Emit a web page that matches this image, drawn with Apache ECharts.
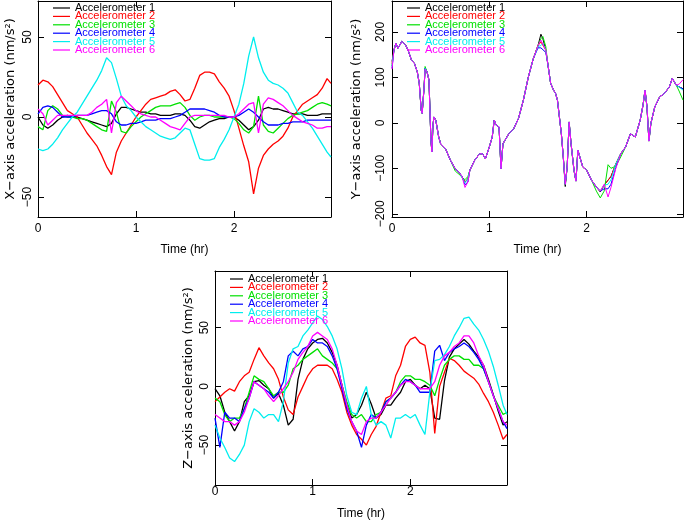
<!DOCTYPE html>
<html><head><meta charset="utf-8">
<script src="https://cdn.jsdelivr.net/npm/echarts@6/dist/echarts.min.js"></script>
<style>html,body{margin:0;padding:0;background:#fff}#c{width:685px;height:521px}</style>
</head><body><div id="c"></div><script>
const seriesNames = ['Accelerometer 1','Accelerometer 2','Accelerometer 3','Accelerometer 4','Accelerometer 5','Accelerometer 6'];
const seriesColors = ['#000000','#ff0000','#00e000','#0000ff','#00eeee','#ff00ff'];
const timeTicks = [0,1,2];
const xTicks = [-50,0,50];
const yTicks = [-200,-100,0,100,200];
const zTicks = [-50,0,50];

// shared time grid (hr) for X and Z panels
const gridTime = [0,0.05,0.1,0.15,0.2,0.25,0.3,0.35,0.4,0.45,0.5,0.55,0.6,0.65,0.7,0.75,0.8,0.85,0.9,0.95,1,1.05,1.1,1.15,1.2,1.25,1.3,1.35,1.4,1.45,1.5,1.55,1.6,1.65,1.7,1.75,1.8,1.85,1.9,1.95,2,2.05,2.1,2.15,2.2,2.25,2.3,2.35,2.4,2.45,2.5,2.55,2.6,2.65,2.7,2.75,2.8,2.85,2.9,2.95,2.99];

// X-axis acceleration (nm/s^2)
const xAcc1 = [0,-5,-7,-5,-2,0,1,0,0,-1,-2,-3,-4,-5,-6,-4,2,6,6,5,4,3,3,2,2,1,1,1,2,2,1,-2,-6,-7,-5,-3,-2,-1,-1,0,0,-2,-5,-8,-6,-2,5,6,5,5,4,3,2,2,2,1,1,1,2,2,2];
const xAcc2 = [20,23,22,19,14,9,4,2,0,-5,-10,-14,-18,-24,-31,-36,-22,-15,-10,-5,0,4,8,11,12,13,14,16,17,14,10,11,18,26,28,28,27,22,18,13,4,-7,-18,-28,-48,-32,-24,-20,-17,-15,-12,-7,0,4,8,10,12,14,18,24,21];
const xAcc3 = [-6,-8,4,7,5,1,0,0,-1,-1,-2,-4,-6,-8,-9,10,3,-9,-10,-6,-3,0,2,4,6,7,7,7,8,9,6,1,-2,0,1,1,0,0,0,0,-1,-4,-8,-10,-6,13,-5,-9,-10,-7,-4,-1,1,2,3,4,6,8,9,8,7];
const xAcc4 = [2,6,7,6,3,0,0,0,1,1,1,2,3,4,4,2,-3,-5,-5,-4,-4,-3,-2,-2,-2,-1,-1,-1,0,1,3,5,5,5,5,4,3,1,0,0,0,1,3,5,3,0,-3,-5,-5,-5,-4,-4,-3,-3,-3,-2,-2,-2,-2,-2,-2];
const xAcc5 = [-20,-21,-20,-17,-13,-8,-4,0,3,8,13,18,23,29,37,34,24,13,7,4,0,-3,-6,-8,-10,-12,-13,-14,-13,-10,-7,-8,-17,-26,-27,-27,-26,-19,-14,-8,0,8,21,38,50,37,28,23,21,20,18,15,9,3,1,-3,-7,-12,-17,-22,-25];
const xAcc6 = [5,2,-5,-2,1,1,1,1,1,1,1,3,6,8,11,-10,9,13,10,7,4,2,1,0,0,-2,-4,-6,-7,-8,-4,0,1,1,1,1,1,1,1,0,0,2,5,8,9,-10,8,12,11,9,7,4,1,-1,-3,-4,-5,-7,-7,-6,-6];

// Y-axis acceleration (nm/s^2) on its own time samples
const yTime = [0,0.02,0.04,0.06,0.08,0.1,0.12,0.14,0.17,0.2,0.23,0.26,0.28,0.3,0.31,0.33,0.34,0.36,0.38,0.4,0.41,0.42,0.43,0.45,0.48,0.5,0.55,0.6,0.65,0.7,0.72,0.75,0.78,0.8,0.85,0.9,0.93,0.96,1.0,1.03,1.05,1.07,1.09,1.1,1.12,1.14,1.2,1.25,1.3,1.35,1.4,1.45,1.5,1.53,1.55,1.58,1.6,1.63,1.66,1.68,1.7,1.72,1.74,1.76,1.78,1.8,1.82,1.84,1.87,1.89,1.91,1.93,1.96,2.0,2.05,2.1,2.14,2.18,2.22,2.25,2.3,2.35,2.4,2.45,2.5,2.55,2.58,2.6,2.62,2.64,2.66,2.7,2.75,2.8,2.85,2.88,2.92,2.95,2.99];
const yAcc1 = [135,160,175,164,171,179,182,171,157,138,131,112,87,28,21,79,120,112,94,-38,-64,-9,13,6,-31,-46,-57,-82,-101,-112,-115,-130,-123,-104,-82,-68,-68,-79,-53,-31,6,-5,-1,-9,-101,-46,-24,-13,10,50,100,140,170,195,185,160,131,87,72,65,50,13,-24,-75,-140,-97,2,-46,-104,-128,-60,-75,-97,-104,-126,-141,-152,-137,-126,-118,-90,-68,-53,-24,-31,6,40,72,35,-40,-1,35,57,65,79,98,83,79,75];
const yAcc2 = [130,160,175,164,171,179,182,171,157,138,131,112,87,28,21,79,120,112,94,-38,-64,-9,13,6,-31,-46,-57,-82,-101,-112,-115,-130,-123,-104,-82,-68,-68,-79,-53,-31,6,-5,-1,-9,-101,-46,-24,-13,10,50,100,140,170,178,175,160,131,87,72,65,50,13,-24,-75,-135,-97,2,-46,-104,-128,-60,-75,-97,-104,-126,-141,-150,-137,-126,-118,-90,-68,-53,-24,-31,6,40,72,35,-40,-1,35,57,65,79,98,83,79,75];
const yAcc3 = [125,160,175,164,171,179,182,171,157,138,131,112,87,28,21,79,124,112,94,-38,-64,-9,13,6,-31,-46,-57,-82,-106,-115,-120,-125,-118,-104,-82,-68,-68,-79,-53,-31,6,-5,-1,-9,-101,-46,-24,-13,10,50,100,140,170,185,190,168,131,87,72,65,50,13,-24,-75,-135,-97,2,-46,-104,-128,-60,-75,-97,-104,-126,-150,-165,-150,-92,-100,-95,-75,-53,-24,-31,6,40,72,35,-40,-1,35,57,65,79,98,83,70,50];
const yAcc4 = [120,160,175,164,171,179,182,171,157,138,131,112,87,28,21,79,120,112,94,-38,-64,-9,13,6,-31,-46,-57,-82,-101,-112,-118,-136,-130,-104,-82,-68,-68,-79,-53,-31,6,-5,-1,-9,-101,-46,-24,-13,10,50,100,140,165,165,166,155,131,87,72,65,50,13,-24,-75,-135,-97,2,-46,-104,-128,-60,-75,-97,-104,-126,-141,-150,-145,-145,-135,-98,-68,-53,-24,-31,6,40,72,35,-40,-1,35,57,65,79,98,83,79,75];
const yAcc5 = [125,160,175,164,171,179,182,171,157,138,131,112,87,28,21,79,120,112,94,-38,-64,-9,13,6,-31,-46,-57,-82,-101,-112,-115,-132,-123,-104,-82,-68,-68,-79,-53,-31,6,-5,-1,-9,-101,-46,-24,-13,10,50,100,140,168,170,175,160,131,87,72,65,50,13,-24,-75,-135,-97,2,-46,-104,-128,-60,-75,-97,-104,-126,-141,-150,-137,-135,-125,-90,-68,-53,-24,-31,6,40,72,35,-40,-1,35,57,65,79,98,83,79,72];
const yAcc6 = [118,160,175,164,171,179,182,171,157,138,131,112,87,28,21,79,118,112,94,-38,-64,-9,13,6,-31,-46,-57,-82,-101,-112,-118,-142,-130,-104,-82,-68,-68,-79,-53,-31,6,-5,-1,-9,-101,-46,-24,-13,10,50,100,140,170,182,180,160,131,87,72,65,50,13,-24,-75,-135,-97,2,-46,-104,-128,-60,-75,-97,-104,-126,-141,-150,-135,-163,-142,-100,-68,-53,-24,-31,6,40,72,35,-40,-1,35,57,65,79,98,83,85,95];

// Z-axis acceleration (nm/s^2)
const zAcc1 = [-2,-8,-22,-30,-38,-30,-13,-8,4,5,1,-2,-10,-6,-16,-33,-28,6,23,32,37,40,41,37,29,18,1,-16,-27,-24,-16,-5,-15,-27,-24,-16,-16,-10,-5,4,6,1,-2,1,-2,-27,-28,5,25,32,36,40,36,30,25,18,6,-7,-21,-33,-30];
const zAcc2 = [-13,-9,-5,-2,-4,4,9,12,23,33,26,20,15,6,-9,-20,-24,-9,0,9,15,18,18,18,15,6,-5,-22,-33,-41,-45,-50,-41,-34,-22,-10,-8,9,18,34,40,42,37,35,12,-40,0,12,24,22,18,13,10,7,2,-6,-13,-22,-33,-45,-41];
const zAcc3 = [-10,-13,-24,-30,-27,-27,-19,-5,9,6,4,-2,-8,-5,-5,1,15,18,23,26,29,32,26,23,20,15,1,-13,-24,-27,-24,-30,-30,-24,-22,-13,-10,-5,4,9,9,6,6,4,1,-8,6,18,23,26,26,23,23,18,18,15,4,-8,-16,-24,-22];
const zAcc4 = [-27,-52,-22,-27,-27,-30,-19,-10,4,1,-2,-5,-10,-5,4,26,30,26,32,34,40,37,37,34,26,15,-2,-19,-30,-38,-52,-33,-24,-27,-22,-13,-10,-5,1,6,4,1,-5,-5,-5,30,35,22,29,32,34,37,34,29,23,15,4,-8,-19,-30,-36];
const zAcc5 = [-33,-44,-52,-61,-64,-58,-50,-30,-19,-22,-27,-24,-24,-30,-13,20,32,34,43,48,54,60,57,51,43,32,15,-8,-22,-24,-10,0,-24,-33,-30,-33,-44,-27,-27,-24,-27,-24,-33,-41,-5,22,23,27,34,43,50,58,59,53,48,40,30,17,1,-16,-24];
const zAcc6 = [-24,-27,-30,-30,-33,-30,-22,-10,4,1,-2,-8,-13,-8,-2,4,12,23,29,34,43,46,43,40,32,18,1,-16,-30,-38,-41,-30,-27,-27,-22,-16,-10,-5,1,4,4,1,-2,-2,-2,4,18,26,29,34,37,43,43,37,26,18,4,-8,-19,-30,-33];

const FONT = '"Liberation Sans", Arial, sans-serif';
const panels = [
  {time: gridTime, values: [xAcc1,xAcc2,xAcc3,xAcc4,xAcc5,xAcc6], yName: 'X\u2212axis acceleration (nm/s\u00b2)', min: -62.5, max: 72.5, ticks: xTicks,
   grid: {left: 38, top: 1, width: 293, height: 216}, legend: {left: 53, top: 2.5, itemWidth: 17}, lw: 1.3,
   yNameGap: 21, yLabelMargin: 4, xLabelMargin: 6, xNameGap: 27},
  {time: yTime, values: [yAcc1,yAcc2,yAcc3,yAcc4,yAcc5,yAcc6], yName: 'Y\u2212axis acceleration (nm/s\u00b2)', min: -207, max: 268, ticks: yTicks,
   grid: {left: 392, top: 1, width: 291, height: 216}, legend: {left: 407, top: 2.5, itemWidth: 13}, lw: 1,
   yNameGap: 29, yLabelMargin: 5, xLabelMargin: 6, xNameGap: 27},
  {time: gridTime, values: [zAcc1,zAcc2,zAcc3,zAcc4,zAcc5,zAcc6], yName: 'Z\u2212axis acceleration (nm/s\u00b2)', min: -84, max: 98.3, ticks: zTicks,
   grid: {left: 215, top: 271, width: 292, height: 217}, legend: {left: 230, top: 273.5, itemWidth: 13}, lw: 1.3,
   yNameGap: 20, yLabelMargin: 4, xLabelMargin: 1, xNameGap: 23}
];

const grids = [], xAxes = [], yAxes = [], series = [], legends = [];
const lineCol = '#000';
panels.forEach((p, pi) => {
  grids.push(Object.assign({containLabel: false}, p.grid));
  const tickCommon = {inside: true, length: 6, lineStyle: {color: lineCol, width: 1}};
  ['bottom', 'top'].forEach(pos => {
    xAxes.push({
      type: 'value', gridIndex: pi, position: pos, min: 0, max: 2.99,
      axisLine: {onZero: false, lineStyle: {color: lineCol, width: 1}},
      axisTick: Object.assign({customValues: timeTicks}, tickCommon),
      axisLabel: {show: pos === 'bottom', customValues: timeTicks, margin: p.xLabelMargin, fontSize: 12, color: '#000', fontFamily: FONT},
      splitLine: {show: false},
      name: pos === 'bottom' ? 'Time (hr)' : '', nameLocation: 'middle', nameGap: p.xNameGap,
      nameTextStyle: {fontSize: 12, color: '#000', fontFamily: FONT}
    });
  });
  ['left', 'right'].forEach(pos => {
    yAxes.push({
      type: 'value', gridIndex: pi, position: pos, min: p.min, max: p.max,
      axisLine: {onZero: false, lineStyle: {color: lineCol, width: 1}},
      axisTick: Object.assign({customValues: p.ticks}, tickCommon),
      axisLabel: {show: pos === 'left', customValues: p.ticks, rotate: 90, margin: p.yLabelMargin, fontSize: 12, color: '#000', fontFamily: FONT,
                  formatter: v => String(v).replace('-', '\u2212')},
      splitLine: {show: false},
      name: pos === 'left' ? p.yName : '', nameLocation: 'middle', nameGap: p.yNameGap,
      nameTextStyle: {fontSize: 13, color: '#000', fontFamily: '"DejaVu Sans", sans-serif'}
    });
  });
  p.values.forEach((vals, si) => {
    series.push({
      type: 'line', name: seriesNames[si], xAxisIndex: pi * 2, yAxisIndex: pi * 2,
      data: p.time.map((t, k) => [t, vals[k]]),
      symbol: 'none', showSymbol: false, animation: false,
      lineStyle: {width: p.lw, color: seriesColors[si]}, itemStyle: {color: seriesColors[si]}
    });
  });
  legends.push({
    orient: 'vertical', left: p.legend.left, top: p.legend.top, padding: 0, itemGap: -2.6,
    itemWidth: p.legend.itemWidth, itemHeight: 1.2, icon: 'rect', selectedMode: false,
    textStyle: {fontSize: 11, fontFamily: FONT},
    data: seriesNames.map((n, i) => ({name: n, textStyle: {color: seriesColors[i]}}))
  });
});

const chart = echarts.init(document.getElementById('c'), null, {renderer: 'canvas'});
chart.setOption({
  backgroundColor: '#fff', animation: false,
  grid: grids, xAxis: xAxes, yAxis: yAxes, legend: legends, series: series
});
</script></body></html>
